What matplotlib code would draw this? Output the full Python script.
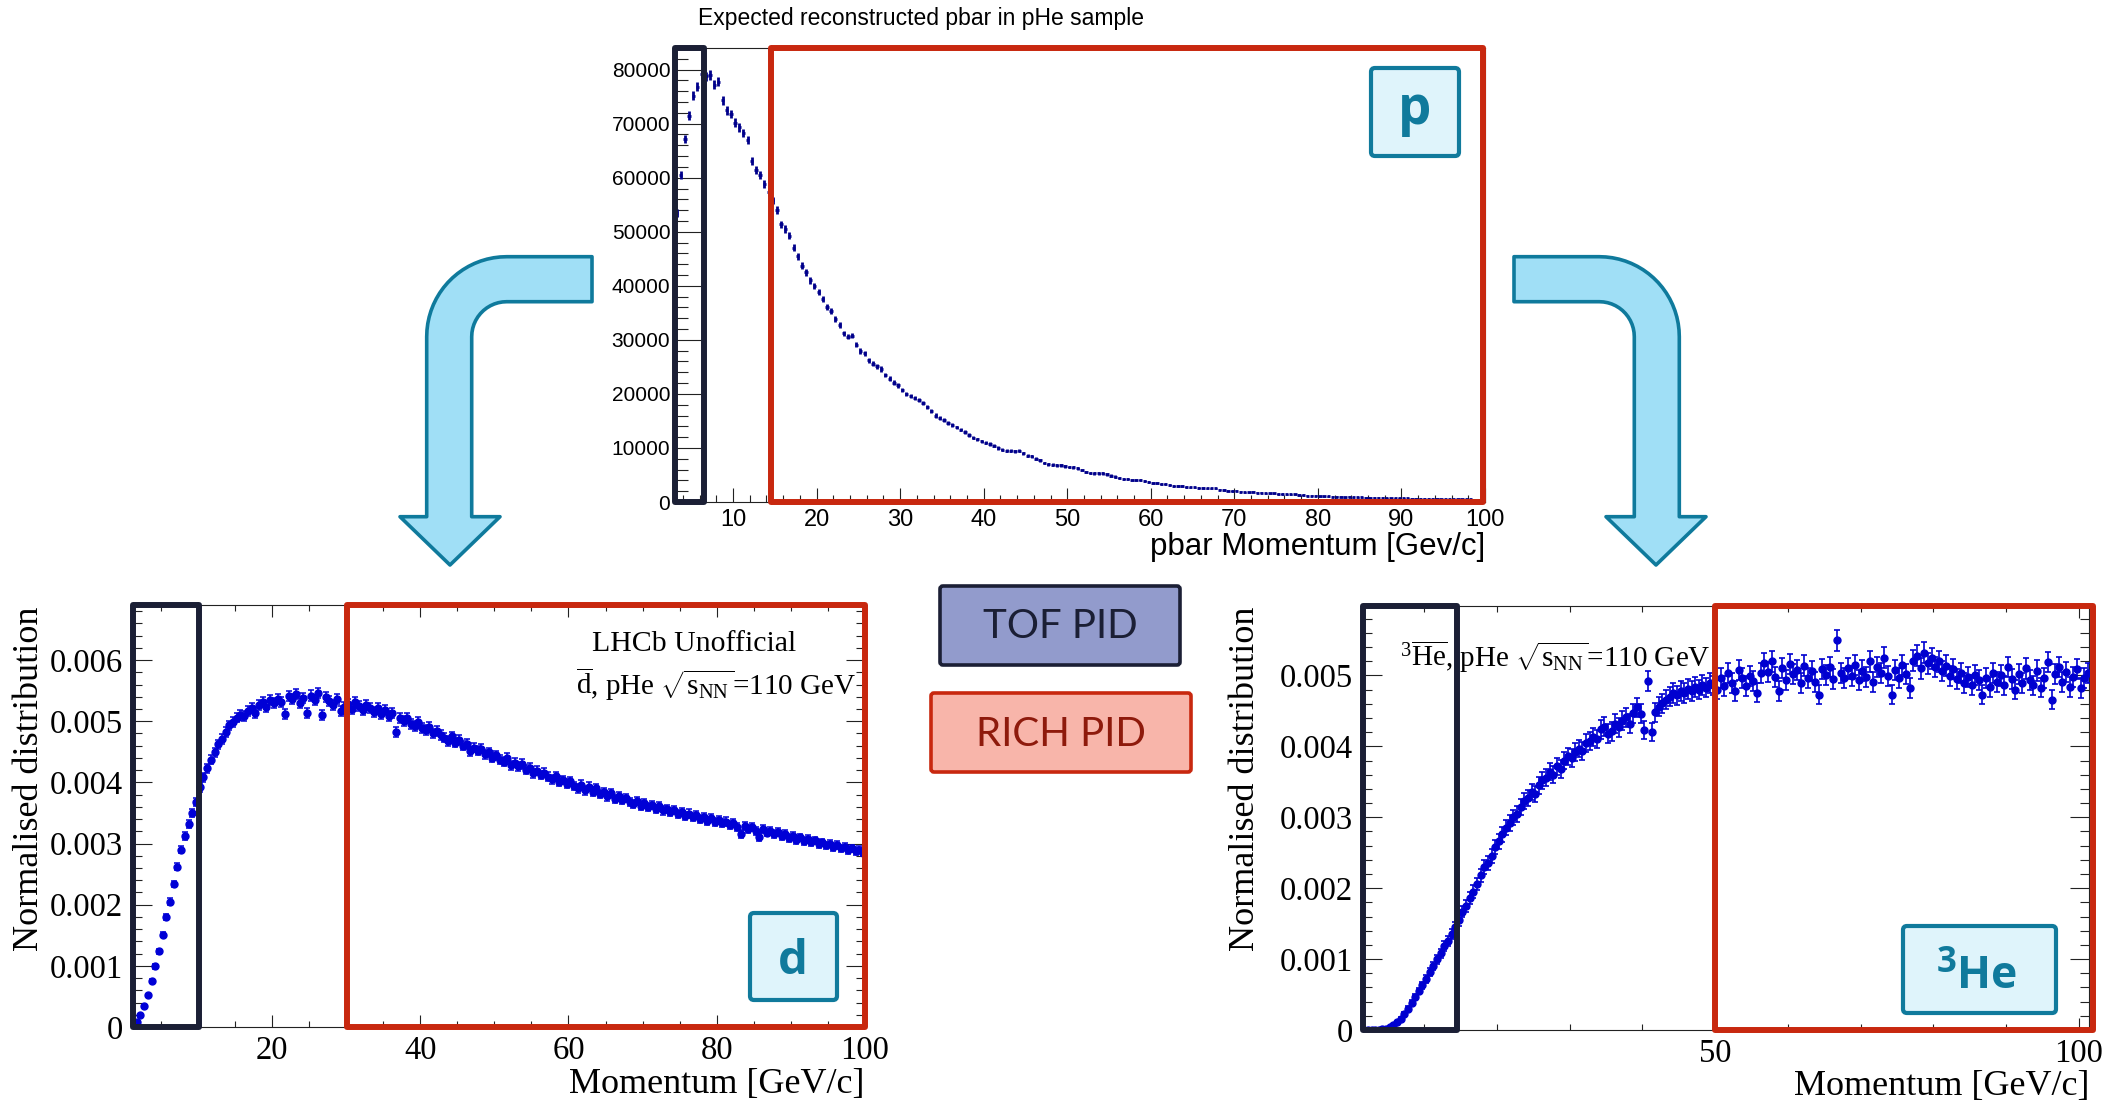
import numpy as np
import matplotlib
matplotlib.use("Agg")
import matplotlib.pyplot as plt
from matplotlib.patches import Rectangle, FancyBboxPatch, PathPatch
from matplotlib.path import Path
from matplotlib.ticker import MultipleLocator, FuncFormatter

plt.rcParams["mathtext.fontset"] = "custom"
plt.rcParams["mathtext.rm"] = "Liberation Serif"
plt.rcParams["mathtext.it"] = "Liberation Serif:italic"
plt.rcParams["mathtext.bf"] = "Liberation Serif:bold"

# ---------------------------------------------------------------- data
# Expected reconstructed pbar (counts / 100), 0.5 GeV bins starting at 3 GeV
PBAR_LO, PBAR_BW = 3.0, 0.5
pbar_counts_x100 = [
    535, 605, 672, 715, 752, 768, 791, 788, 790, 772,
    778, 743, 725, 718, 702, 693, 683, 670, 631, 615,
    605, 589, 573, 558, 540, 514, 505, 493, 470, 455,
    437, 425, 410, 400, 388, 375, 361, 354, 339, 328,
    312, 306, 308, 291, 279, 275, 262, 256, 251, 246,
    235, 228, 221, 216, 207, 200, 196, 192, 189, 183,
    176, 168, 160, 156, 152, 146, 142, 138, 134, 129,
    124, 119, 116, 112, 110, 107, 104, 100, 97, 95,
    95, 94, 95, 90, 86, 85, 80, 77, 72, 70,
    69, 68, 68, 66, 65, 64, 62, 59, 56, 54,
    53, 53, 53, 51, 49, 47, 44, 43, 42, 41,
    41, 40, 38, 37, 36, 35, 34, 33, 31, 30,
    30, 29, 28, 27, 27, 26, 26, 25, 25, 25,
    23, 22, 21, 20, 21, 19, 18, 18, 19, 17,
    17, 16, 16, 16, 15, 15, 14, 14, 14, 13,
    13, 12, 12, 12, 11, 11, 11, 10, 10, 10,
    9, 10, 9, 9, 9, 8, 8, 8, 8, 8,
    7, 7, 7, 7, 7, 7, 6, 6, 6, 6,
    6, 6, 6, 5, 5, 5, 5, 5, 5, 5,
    5, 4, 4, 4,
]

# Anti-deuteron normalised distribution (x 1e-5), 0.5 GeV bins starting at 1 GeV
DBAR_LO, DBAR_BW = 1.0, 0.5
dbar_norm_e5 = [
    0, 8, 19, 34, 52, 75, 99, 124, 151, 180,
    205, 234, 262, 290, 312, 332, 350, 368, 392, 408,
    423, 437, 449, 462, 471, 482, 493, 499, 506, 510,
    508, 516, 521, 513, 527, 531, 524, 535, 529, 537,
    532, 512, 541, 536, 544, 530, 538, 514, 542, 535,
    546, 510, 540, 533, 527, 536, 516, 524, 528, 520,
    531, 525, 519, 527, 521, 515, 522, 512, 518, 509,
    513, 482, 505, 500, 506, 495, 492, 499, 489, 486,
    491, 480, 484, 477, 473, 468, 475, 465, 469, 460,
    463, 451, 457, 452, 455, 446, 449, 440, 444, 437,
    434, 440, 428, 432, 426, 430, 421, 424, 415, 419,
    412, 416, 409, 405, 410, 401, 404, 398, 402, 394,
    390, 396, 387, 393, 385, 390, 381, 384, 377, 382,
    373, 378, 371, 374, 368, 365, 370, 362, 366, 360,
    363, 357, 361, 354, 357, 351, 355, 348, 352, 345,
    349, 343, 346, 340, 343, 337, 341, 335, 338, 333,
    336, 330, 333, 327, 316, 329, 324, 327, 321, 311,
    324, 318, 321, 315, 319, 312, 315, 309, 313, 306,
    310, 304, 307, 302, 305, 299, 302, 297, 300, 294,
    298, 292, 295, 289, 292, 287, 290, 285,
]

# Anti-helium-3 normalised distribution (x 1e-5), 0.5 GeV bins starting at 1.5 GeV
HE3_LO, HE3_BW = 1.5, 0.5
he3_norm_e5 = [
    0, 0, 0, 0, 0, 1, 2, 4, 7, 11,
    16, 23, 30, 38, 46, 55, 63, 72, 82, 90,
    100, 108, 118, 126, 135, 145, 155, 167, 175, 186,
    195, 206, 218, 230, 236, 245, 258, 266, 276, 285,
    292, 300, 305, 315, 323, 327, 336, 333, 345, 352,
    356, 364, 360, 372, 368, 380, 386, 384, 392, 397,
    394, 405, 408, 413, 410, 424, 428, 418, 421, 432,
    427, 436, 441, 432, 447, 455, 446, 423, 492, 420,
    448, 456, 461, 466, 470, 475, 472, 478, 475, 481,
    478, 484, 480, 487, 483, 490, 486, 480, 497, 485,
    503, 490, 478, 508, 496, 485, 499, 492, 476, 503,
    517, 505, 520, 498, 478, 511, 494, 516, 502, 508,
    489, 514, 497, 506, 491, 473, 509, 501, 512, 495,
    550, 503, 496, 510, 499, 515, 493, 507, 498, 520,
    491, 512, 504, 525, 499, 473, 508, 496, 515, 502,
    482, 521, 528, 510, 532, 517, 524, 512, 520, 506,
    514, 499, 509, 495, 503, 490, 498, 487, 501, 493,
    473, 497, 484, 504, 491, 500, 486, 512, 495, 480,
    502, 489, 510, 494, 486, 507, 483, 497, 519, 466,
    502, 512, 491, 505, 484, 498, 509, 482, 496, 503,
]

# PID momentum ranges [GeV/c] for each species
pbar_tof, pbar_rich = (3.06, 6.5), (14.5, 99.8)
dbar_tof, dbar_rich = (1.2, 10.1), (30.1, 100.0)
he3_tof, he3_rich = (1.58, 14.5), (50.0, 101.9)

# ---------------------------------------------------------------- helpers
W, H = 2117, 1104
fig = plt.figure(figsize=(W / 100, H / 100), dpi=100)
fig.patch.set_facecolor("white")

def px_axes(left, top, right, bottom):
    return fig.add_axes([left / W, 1 - bottom / H, (right - left) / W, (bottom - top) / H])

def bin_centres(lo, bw, n):
    return lo + bw * (np.arange(n) + 0.5)

TOF_EDGE = "#1b1f35"
RICH_EDGE = "#c8280f"

def pid_boxes(ax, tof, rich, ytop):
    for (x0, x1), col in ((tof, TOF_EDGE), (rich, RICH_EDGE)):
        ax.add_patch(Rectangle((x0, 0), x1 - x0, ytop, fill=False, ec=col, lw=4.3,
                               joinstyle="round", clip_on=False, zorder=6))

def root_frame(ax, lw=0.8):
    for s in ax.spines.values():
        s.set_linewidth(lw)
        s.set_color("#222222")

serif = "Liberation Serif"
sans = "Liberation Sans"

# ---------------------------------------------------------------- top panel
ax0 = px_axes(674.5, 48, 1485, 502)
pc = np.array(pbar_counts_x100, dtype=float) * 100
px = bin_centres(PBAR_LO, PBAR_BW, len(pc))
ax0.errorbar(px, pc, xerr=PBAR_BW / 2 * 0.8, yerr=3.0 * np.sqrt(pc), fmt="none",
             ecolor="#00008b", elinewidth=2.0, capsize=0, zorder=3)
ax0.set_xlim(3, 100)
ax0.set_ylim(0, 84000)
ax0.xaxis.set_major_locator(MultipleLocator(10))
ax0.xaxis.set_minor_locator(MultipleLocator(2))
ax0.yaxis.set_major_locator(MultipleLocator(10000))
ax0.yaxis.set_minor_locator(MultipleLocator(2000))
ax0.yaxis.set_major_formatter(FuncFormatter(lambda v, p: f"{int(round(v))}"))
ax0.tick_params(axis="y", which="major", direction="in", length=19, width=0.8, pad=3,
                labelsize=15, color="#222222")
ax0.tick_params(axis="y", which="minor", direction="in", length=9.5, width=0.8, color="#222222")
ax0.tick_params(axis="x", which="major", direction="in", length=10, width=0.8, pad=5,
                labelsize=17, color="#222222")
ax0.tick_params(axis="x", which="minor", direction="in", length=5, width=0.8, color="#222222")
for lab in ax0.get_xticklabels() + ax0.get_yticklabels():
    lab.set_fontfamily(sans)
root_frame(ax0)
pid_boxes(ax0, pbar_tof, pbar_rich, 84000)

# ---------------------------------------------------------------- bottom-left panel
ax1 = px_axes(132.6, 605, 865, 1027)
dv = np.array(dbar_norm_e5, dtype=float) * 1e-5
dx = bin_centres(DBAR_LO, DBAR_BW, len(dv))
ax1.errorbar(dx, dv, yerr=0.00113 * np.sqrt(dv), fmt="o", ms=5, mfc="#0000d6", mec="#0000d6",
             ecolor="#0000d6", elinewidth=1.1, capsize=2, capthick=1.1, zorder=3)
ax1.set_xlim(1.2, 100)
ax1.set_ylim(0, 0.0069)

# ---------------------------------------------------------------- bottom-right panel
ax2 = px_axes(1363, 606, 2089, 1030)
hv = np.array(he3_norm_e5, dtype=float) * 1e-5
hx = bin_centres(HE3_LO, HE3_BW, len(hv))
ax2.errorbar(hx, hv, yerr=0.002 * np.sqrt(hv), fmt="o", ms=5, mfc="#0000d0", mec="#0000d0",
             ecolor="#0000d0", elinewidth=1.2, capsize=2, capthick=1.2, zorder=3)
ax2.set_xlim(1.58, 101.4)
ax2.set_ylim(0, 0.00598)

def norm_fmt(v, p):
    return "0" if abs(v) < 1e-12 else f"{v:.3f}"

for ax, xmaj, xmin in ((ax1, 20, 5), (ax2, 50, 10)):
    ax.xaxis.set_major_locator(MultipleLocator(xmaj))
    ax.xaxis.set_minor_locator(MultipleLocator(xmin))
    ax.yaxis.set_major_locator(MultipleLocator(0.001))
    ax.yaxis.set_minor_locator(MultipleLocator(0.0002))
    ax.yaxis.set_major_formatter(FuncFormatter(norm_fmt))
    ax.tick_params(which="both", direction="in", top=True, right=True, color="#222222", width=0.8)
    ax.tick_params(axis="y", which="major", length=13.5, pad=7, labelsize=23.5)
    ax.tick_params(axis="y", which="minor", length=6.5)
    ax.tick_params(axis="x", which="major", length=8.6, pad=6, labelsize=23.5)
    ax.tick_params(axis="x", which="minor", length=4.3)
    for lab in ax.get_xticklabels() + ax.get_yticklabels():
        lab.set_fontfamily(serif)
    root_frame(ax)

pid_boxes(ax1, dbar_tof, dbar_rich, 0.0069)
pid_boxes(ax2, he3_tof, he3_rich, 0.00598)

# ---------------------------------------------------------------- overlay (pixel coordinates)
ov = fig.add_axes([0, 0, 1, 1], zorder=10)
ov.set_xlim(0, W)
ov.set_ylim(H, 0)
ov.axis("off")
ov.patch.set_visible(False)

# titles and axis labels
ov.text(698, 18, "Expected reconstructed pbar in pHe sample", fontsize=16.5, family=sans,
        ha="left", va="center")
ov.text(1485, 547, "pbar Momentum [Gev/c]", fontsize=22.5, family=sans, ha="right", va="center")

ov.text(30, 607, "Normalised distribution", fontsize=26, family=serif, rotation=90,
        ha="center", va="top")
ov.text(864, 1084, "Momentum [GeV/c]", fontsize=26, family=serif, ha="right", va="center")
ov.text(1245, 607, "Normalised distribution", fontsize=26, family=serif, rotation=90,
        ha="center", va="top")
ov.text(2089, 1087, "Momentum [GeV/c]", fontsize=26, family=serif, ha="right", va="center")

ov.text(694, 644, "LHCb Unofficial", fontsize=21.5, family=serif, ha="center", va="center")
ov.text(716, 684, r"$\overline{\mathrm{d}}$, pHe $\sqrt{\mathrm{s}_{\mathrm{NN}}}$=110 GeV",
        fontsize=21, family=serif, ha="center", va="center")
ov.text(1400, 657, r"$^{3}\overline{\mathrm{He}}$, pHe $\sqrt{\mathrm{s}_{\mathrm{NN}}}$=110 GeV",
        fontsize=21, family=serif, ha="left", va="center")

# species tags
TAG_FILL, TAG_EDGE = "#dff4fb", "#107a9c"
tag_font = ["Open Sans", "DejaVu Sans"]

def tag_box(x0, y0, x1, y1):
    ov.add_patch(FancyBboxPatch((x0, y0), x1 - x0, y1 - y0,
                                boxstyle="round,pad=0,rounding_size=4",
                                fc=TAG_FILL, ec=TAG_EDGE, lw=3.0))

tag_box(1371, 68, 1459, 156)
ov.text(1415, 124, "p", fontsize=38, fontweight="bold", family=tag_font, color=TAG_EDGE,
        ha="center", va="baseline")
tag_box(750, 913, 837, 1000)
ov.text(793, 974, "d", fontsize=34, fontweight="bold", family=tag_font, color=TAG_EDGE,
        ha="center", va="baseline")
tag_box(1903, 926, 2056, 1013)
ov.text(1957, 972, "3", fontsize=25, fontweight="bold", family=tag_font, color=TAG_EDGE,
        ha="right", va="baseline")
ov.text(1957, 988, "He", fontsize=32, fontweight="bold", family=tag_font, color=TAG_EDGE,
        ha="left", va="baseline")

# PID legend boxes
pid_font = ["Lato", "DejaVu Sans"]
ov.add_patch(FancyBboxPatch((940, 586), 240, 79, boxstyle="round,pad=0,rounding_size=3",
                            fc="#929bcc", ec=TOF_EDGE, lw=2.6))
ov.text(1060, 627, "TOF PID", fontsize=29, family=pid_font, color="#1b1f35",
        ha="center", va="center")
ov.add_patch(FancyBboxPatch((931, 693), 260, 79, boxstyle="round,pad=0,rounding_size=3",
                            fc="#f8b5aa", ec=RICH_EDGE, lw=2.6))
ov.text(1061, 734, "RICH PID", fontsize=29, family=pid_font, color="#8e1a0c",
        ha="center", va="center")

# bent arrows
ARROW_FILL, ARROW_EDGE = "#a0dff6", "#0f7a9c"

def bent_arrow(mirror=None):
    cx, cy, ro, ri = 506.7, 336.7, 80.0, 35.0
    pts = [(592.0, 256.7), (cx, cy - ro)]
    th = np.radians(np.linspace(-90, -180, 20))
    pts += list(zip(cx + ro * np.cos(th), cy + ro * np.sin(th)))
    pts += [(426.7, 516.7), (400.0, 516.7), (450.0, 565.0), (500.0, 516.7),
            (471.7, 516.7), (471.7, cy)]
    th = np.radians(np.linspace(-180, -90, 14))
    pts += list(zip(cx + ri * np.cos(th), cy + ri * np.sin(th)))
    pts += [(592.0, 301.7), (592.0, 256.7)]
    pts = np.array(pts)
    if mirror is not None:
        pts[:, 0] = mirror - pts[:, 0]
    codes = [Path.MOVETO] + [Path.LINETO] * (len(pts) - 2) + [Path.CLOSEPOLY]
    ov.add_patch(PathPatch(Path(pts, codes), fc=ARROW_FILL, ec=ARROW_EDGE, lw=2.6,
                           joinstyle="round"))

bent_arrow()
bent_arrow(mirror=2106.0)

fig.savefig("out.png", dpi=100, facecolor="white")
